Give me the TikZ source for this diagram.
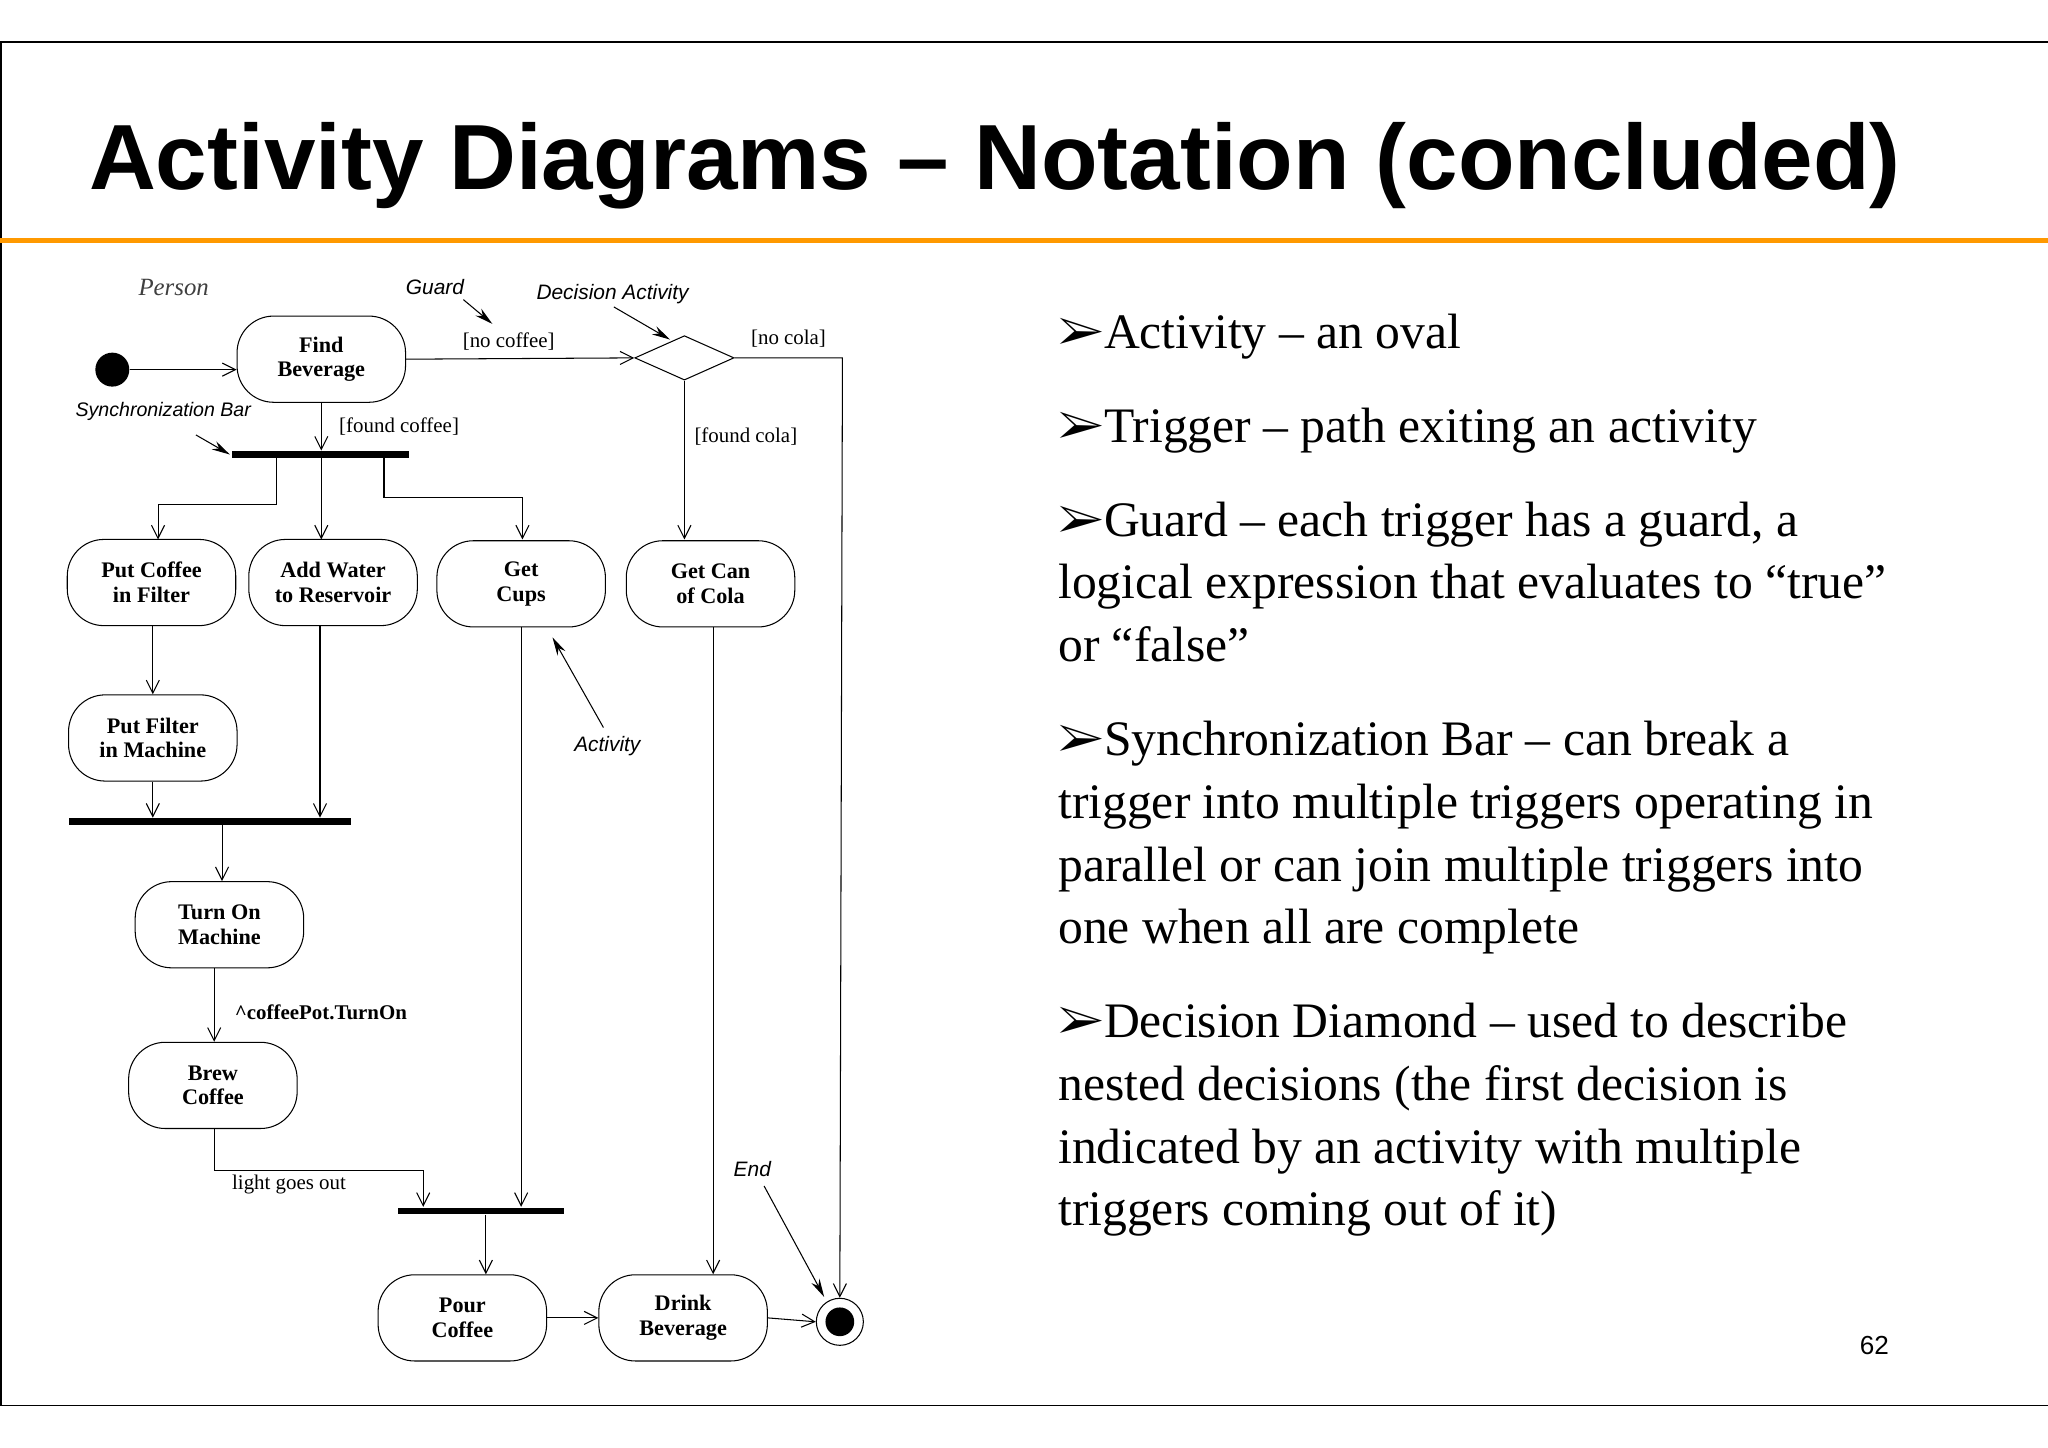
\documentclass[tikz,border=0pt]{standalone}
\usepackage{fontspec}
\setmainfont{Liberation Serif}
\newfontfamily\sans{Liberation Sans}
\usepackage{pifont}
\usetikzlibrary{arrows.meta,shapes.geometric}
\begin{document}
\begin{tikzpicture}[x=1pt,y=-1pt,
 act/.style={draw,rounded corners=28pt,minimum width=129pt,minimum height=66pt,font=\fontsize{17}{19}\selectfont\bfseries,align=center,line width=0.8pt},
 bar/.style={line width=5pt},
 flow/.style={line width=0.8pt,-{Straight Barb[length=10pt,width=10pt]}},
 note/.style={font=\sans\itshape\fontsize{16}{18}\selectfont},
 poi/.style={line width=0.8pt,-{Stealth[length=14pt,width=7pt]}},
 lab/.style={font=\fontsize{16}{18}\selectfont},
 bul/.style={anchor=north west,align=flush left,text width=675pt,font=\fontsize{38}{48}\selectfont,inner sep=0pt}]
\useasboundingbox (0,0) rectangle (1568,1108);
\fill[white] (0,0) rectangle (1568,1108);
\draw[line width=1.2pt] (0,32) -- (1568,32) (0,1076) -- (1568,1076) (0.6,32) -- (0.6,1076);
\draw[orange!80!yellow,line width=4pt] (0,184) -- (1568,184);
\node[anchor=base west,inner sep=0pt,font=\sans\bfseries\fontsize{62}{70}\selectfont] (title) at (68,145) {\resizebox{1387pt}{!}{Activity Diagrams – Notation (concluded)}};
\node[font=\sans\fontsize{20}{24}\selectfont] (pg) at (1435,1030) {62};
% bullets
\newcommand{\bl}{\ding{226}}
\node[bul] (b1) at (810,240) {\hyphenpenalty=10000 \bl Activity – an oval};
\node[bul] (b2) at (810,312) {\hyphenpenalty=10000 \bl Trigger – path exiting an activity};
\node[bul] (b3) at (810,384) {\hyphenpenalty=10000 \bl Guard – each trigger has a guard, a\\ logical expression that evaluates to “true”\\ or “false”};
\node[bul] (b4) at (810,552) {\hyphenpenalty=10000 \bl Synchronization Bar – can break a\\ trigger into multiple triggers operating in\\ parallel or can join multiple triggers into\\ one when all are complete};
\node[bul] (b5) at (810,768) {\hyphenpenalty=10000 \bl Decision Diamond – used to describe\\ nested decisions (the first decision is\\ indicated by an activity with multiple\\ triggers coming out of it)};
% diagram nodes
\node[circle,fill,minimum size=26pt,inner sep=0pt] (start) at (86,283) {};
\node[act] (find) at (246,275) {Find\\Beverage};
\node[draw,line width=0.8pt,shape=diamond,shape aspect=2.2,minimum width=76pt,minimum height=34pt,inner sep=0pt] (dec) at (524,274) {};
\node[act] (pcf) at (116,446) {Put Coffee\\in Filter};
\node[act] (aw) at (255,446) {Add Water\\to Reservoir};
\node[act] (gc) at (399,447) {Get\\Cups};
\node[act] (gcc) at (544,447) {Get Can\\of Cola};
\node[act] (pfm) at (117,565) {Put Filter\\in Machine};
\node[act] (tom) at (168,708) {Turn On\\Machine};
\node[act] (bc) at (163,831) {Brew\\Coffee};
\node[act] (pc) at (354,1009) {Pour\\Coffee};
\node[act] (db) at (523,1009) {Drink\\Beverage};
\node[circle,draw,line width=0.8pt,minimum size=36pt,inner sep=0pt] (end) at (643,1012) {};
\fill (end.center) circle (11pt);
\coordinate (b1l) at (178,348); \coordinate (b1r) at (313,348);
\coordinate (b2l) at (53,629); \coordinate (b2r) at (269,629);
\coordinate (b3l) at (305,927); \coordinate (b3r) at (432,927);
\draw[bar] (b1l) -- (b1r); \draw[bar] (b2l) -- (b2r); \draw[bar] (b3l) -- (b3r);
% flows
\draw[flow] (start) -- (find.west |- start);
\draw[flow] (find.east) -- (dec.west) node[lab,pos=0.45,above=3pt] {[no coffee]};
\draw[flow] (dec.east) -- (645,274) node[lab,pos=0.5,above=4pt] {[no cola]} -- (end.north);
\draw[flow] (dec.south) -- (524,413) node[lab,pos=0.35,right=4pt] {[found cola]};
\draw[flow] (find.south) -- (246,345) node[lab,pos=0.5,right=10pt] {[found coffee]};
\draw[flow] (212,350) -- (212,386) -- (121,386) -- (121,413);
\draw[flow] (246,350) -- (246,413);
\draw[flow] (294,350) -- (294,381) -- (400,381) -- (400,413);
\draw[flow] (pcf.south -| 117,0) -- (pfm.north -| 117,0);
\draw[flow] (pfm.south -| 117,0) -- (117,626);
\draw[flow] (aw.south -| 245,0) -- (245,626);
\draw[flow] (170,632) -- (tom.north -| 170,0);
\draw[flow] (tom.south -| 164,0) -- (bc.north -| 164,0) node[lab,pos=0.6,right=12pt,font=\bfseries\fontsize{16}{18}\selectfont] {\textasciicircum coffeePot.TurnOn};
\draw[flow] (bc.south -| 164,0) -- (164,896) node[lab,right=10pt,anchor=north west] {light goes out} -- (324,896) -- (324,924);
\draw[flow] (gc.south -| 399,0) -- (399,924);
\draw[flow] (372,930) -- (pc.north -| 372,0);
\draw[flow] (pc.east) -- (db.west);
\draw[flow] (db.east) -- (end.west);
\draw[flow] (gcc.south -| 546,0) -- (db.north -| 546,0);
% annotations
\node[font=\itshape\fontsize{19}{22}\selectfont,text=black!75] (person) at (133,220) {Person};
\node[note] (guard) at (333,220) {Guard};
\node[note] (da) at (469,225) {Decision Activity};
\node[note,font=\sans\itshape\fontsize{15}{18}\selectfont] (sb) at (125,315) {Synchronization Bar};
\node[note] (actn) at (465,571) {Activity};
\node[note] (endn) at (576,895) {End};
\draw[poi] (guard.south east) ++(-4,0) -- (377,248);
\draw[poi] (470,235) -- (513,260);
\draw[poi] (150,333) -- (176,348);
\draw[poi] (462,557) -- (423,488);
\draw[poi] (585,908) -- (631,993);
\end{tikzpicture}
\end{document}
